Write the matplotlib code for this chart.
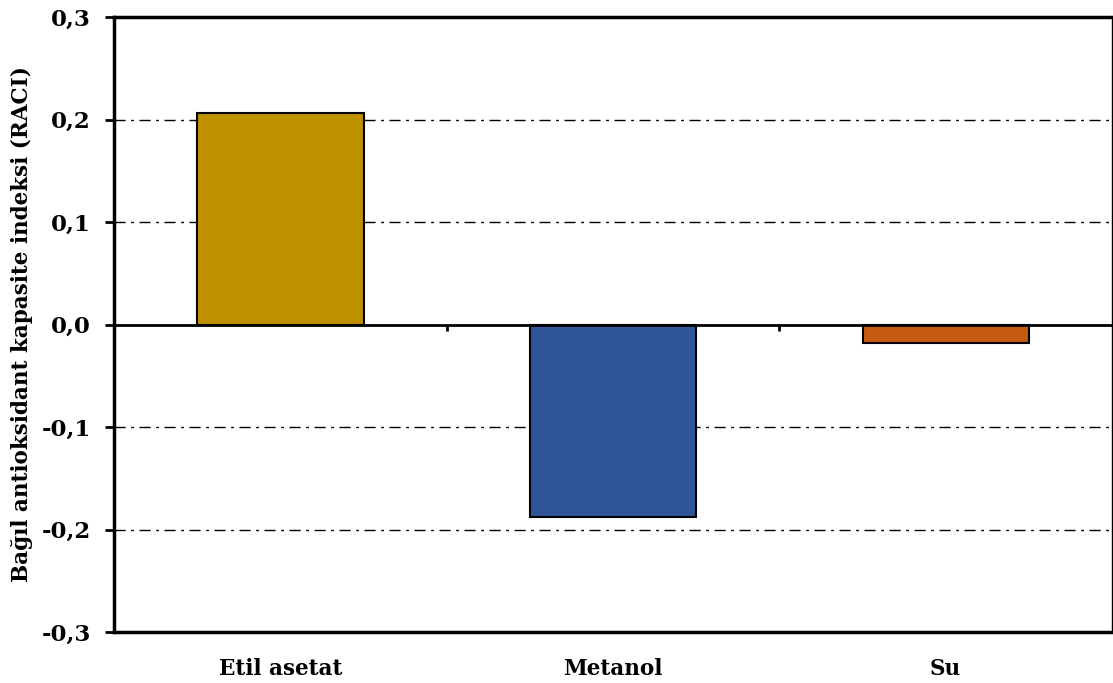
import matplotlib
matplotlib.use("Agg")
import matplotlib.pyplot as plt
import numpy as np

categories = ["Etil asetat", "Metanol", "Su"]
values = [0.206, -0.188, -0.018]
colors = ["#BF9000", "#2F5597", "#C55A11"]
yticks = [-0.3, -0.2, -0.1, 0.0, 0.1, 0.2, 0.3]
ytick_labels = ["-0,3", "-0,2", "-0,1", "0,0", "0,1", "0,2", "0,3"]

plt.rcParams['font.family'] = ['DejaVu Serif']
fig = plt.figure(figsize=(11.13, 6.83), dpi=100)
ax = fig.add_axes([114/1113, 1-632/683, (1112-114)/1113, (632-17)/683])

x = np.arange(len(categories))
ax.bar(x, values, width=0.5, color=colors, edgecolor="black", linewidth=1.5, zorder=3)

ax.set_xlim(-0.5, len(categories) - 0.5)
ax.set_ylim(-0.3, 0.3)
ax.set_yticks(yticks)
ax.set_yticklabels(ytick_labels, fontsize=16.5, fontweight="bold")
ax.tick_params(axis='y', direction='out', length=6.5, width=2, pad=10)
ax.set_xticks(x)
ax.set_xticklabels(categories, fontsize=15.5, fontweight="bold")
ax.tick_params(axis='x', length=0, pad=19)

for yv in yticks:
    if yv not in (0.0, -0.3, 0.3):
        ax.axhline(yv, color="black", linewidth=1, linestyle=(0, (8, 4, 2, 4)), zorder=1)
ax.axhline(0, color="black", linewidth=2, zorder=4)
bounds = x[:-1] + 0.5
ax.vlines(bounds, 0, -0.006, color="black", linewidth=2, zorder=4)

for s in ['left', 'bottom', 'top']:
    ax.spines[s].set_linewidth(2.5)
ax.spines['right'].set_linewidth(1)

ax.set_ylabel("Bağıl antioksidant kapasite indeksi (RACI)", fontsize=15.5, fontweight="bold", labelpad=6)

fig.savefig("out.png", dpi=100)
